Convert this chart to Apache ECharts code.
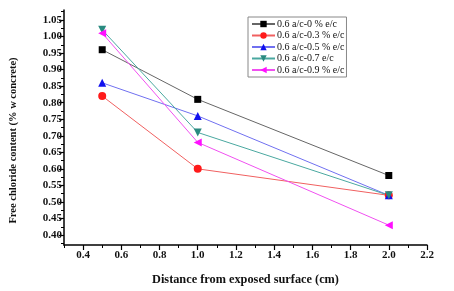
<!DOCTYPE html>
<html>
<head>
<meta charset="utf-8">
<script src="https://cdn.jsdelivr.net/npm/echarts@6/dist/echarts.min.js"></script>
<style>
  html, body { margin: 0; padding: 0; background: #fff; }
  #chart { width: 454px; height: 291px; }
</style>
</head>
<body>
<div id="chart"></div>
<script>
// distances (cm)
const distances = [0.5, 1.0, 2.0];

// free chloride content per mix
const seriesNames = [
    '0.6 a/c-0 % e/c',
    '0.6 a/c-0.3 % e/c',
    '0.6 a/c-0.5 % e/c',
    '0.6 a/c-0.7 e/c',
    '0.6 a/c-0.9 % e/c'
];
const s0 = [0.96, 0.81, 0.58];
const s03 = [0.82, 0.60, 0.52];
const s05 = [0.86, 0.76, 0.52];
const s07 = [1.02, 0.71, 0.52];
const s09 = [1.01, 0.68, 0.43];

// tick labels
const xTicks = [0.4, 0.6, 0.8, 1.0, 1.2, 1.4, 1.6, 1.8, 2.0, 2.2];
const xMinor = [0.3, 0.5, 0.7, 0.9, 1.1, 1.3, 1.5, 1.7, 1.9, 2.1];
const yTicks = [0.40, 0.45, 0.50, 0.55, 0.60, 0.65, 0.70, 0.75, 0.80, 0.85, 0.90, 0.95, 1.00, 1.05];
const yMinor = [0.375, 0.425, 0.475, 0.525, 0.575, 0.625, 0.675, 0.725, 0.775, 0.825, 0.875, 0.925, 0.975, 1.025, 1.075];

const chart = echarts.init(document.getElementById('chart'));

const font = '"Liberation Serif", "DejaVu Serif", serif';

function mk(name, vals, color, lineColor, symbol, rotate) {
    return {
        name: name,
        type: 'line',
        data: distances.map((d, i) => [d, vals[i]]),
        symbol: symbol,
        symbolSize: symbol === 'rect' ? 7 : 8,
        symbolRotate: rotate || 0,
        itemStyle: { color: color },
        lineStyle: { color: lineColor, width: 1 },
        emphasis: { disabled: true },
        animation: false
    };
}

chart.setOption({
    animation: false,
    grid: { left: 60, right: 27, top: 10, bottom: 44 },
    legend: {
        orient: 'vertical',
        left: 248,
        top: 17,
        itemWidth: 23,
        itemHeight: 8,
        itemGap: 1.5,
        padding: [2, 2, 2, 3],
        borderColor: '#888',
        borderWidth: 1,
        backgroundColor: '#fff',
        textStyle: { fontFamily: font, fontSize: 10, lineHeight: 10, color: '#111', padding: [0, 0, 0, -3] },
        data: seriesNames
    },
    xAxis: [{
        type: 'value',
        min: 0.3,
        max: 2.2,
        name: 'Distance from exposed surface (cm)',
        nameLocation: 'middle',
        nameGap: 29,
        nameTextStyle: { fontFamily: font, fontWeight: 'bold', fontSize: 12.3, color: '#111' },
        axisLine: { lineStyle: { color: '#000', width: 1.5 } },
        axisTick: { customValues: xTicks, length: 5, lineStyle: { color: '#000', width: 1.2 } },
        axisLabel: {
            customValues: xTicks, margin: 5,
            formatter: v => v.toFixed(1),
            fontFamily: font, fontWeight: 'bold', fontSize: 11, color: '#111'
        },
        splitLine: { show: false }
    }, {
        type: 'value',
        min: 0.3,
        max: 2.2,
        position: 'bottom',
        axisLine: { show: false },
        axisTick: { customValues: xMinor, length: 3, lineStyle: { color: '#000', width: 1 } },
        axisLabel: { show: false },
        splitLine: { show: false }
    }],
    yAxis: [{
        type: 'value',
        min: 0.37,
        max: 1.08,
        name: 'Free chloride content (% w concrete)',
        nameLocation: 'middle',
        nameGap: 45,
        nameTextStyle: { fontFamily: font, fontWeight: 'bold', fontSize: 10.5, color: '#111', padding: [0, 26, 0, 0] },
        axisLine: { show: true, lineStyle: { color: '#000', width: 1.5 } },
        axisTick: { show: true, customValues: yTicks, length: 5, lineStyle: { color: '#000', width: 1.2 } },
        axisLabel: {
            customValues: yTicks, margin: 2,
            formatter: v => v.toFixed(2),
            fontFamily: font, fontWeight: 'bold', fontSize: 11, color: '#111'
        },
        splitLine: { show: false }
    }, {
        type: 'value',
        min: 0.37,
        max: 1.08,
        position: 'left',
        axisLine: { show: false },
        axisTick: { show: true, customValues: yMinor, length: 3, lineStyle: { color: '#000', width: 1 } },
        axisLabel: { show: false },
        splitLine: { show: false }
    }],
    series: [
        mk(seriesNames[0], s0, '#000000', '#666666', 'rect'),
        mk(seriesNames[1], s03, '#ff1a1a', '#f06060', 'circle'),
        mk(seriesNames[2], s05, '#1010ee', '#7070f0', 'triangle'),
        mk(seriesNames[3], s07, '#2a8a80', '#4aa8a0', 'triangle', 180),
        mk(seriesNames[4], s09, '#ff10ff', '#f050f0', 'triangle', 90)
    ]
});
</script>
</body>
</html>
